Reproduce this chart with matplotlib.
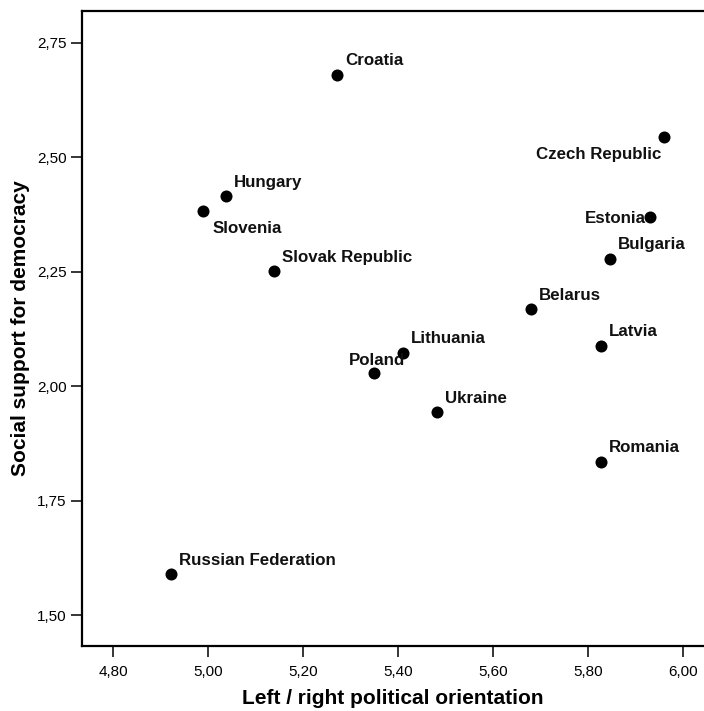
import matplotlib
matplotlib.use("Agg")
import matplotlib.pyplot as plt

countries = ["Croatia", "Czech Republic", "Hungary", "Slovenia", "Slovak Republic",
             "Estonia", "Bulgaria", "Belarus", "Latvia", "Lithuania", "Poland",
             "Ukraine", "Romania", "Russian Federation"]
left_right = [5.271, 5.960, 5.037, 4.989, 5.138,
              5.929, 5.846, 5.679, 5.827, 5.410, 5.349,
              5.482, 5.827, 4.921]
support = [2.680, 2.544, 2.415, 2.382, 2.251,
           2.369, 2.278, 2.168, 2.088, 2.073, 2.028,
           1.943, 1.835, 1.589]

x_ticks = [4.80, 5.00, 5.20, 5.40, 5.60, 5.80, 6.00]
x_tick_labels = ["4,80", "5,00", "5,20", "5,40", "5,60", "5,80", "6,00"]
y_ticks = [1.50, 1.75, 2.00, 2.25, 2.50, 2.75]
y_tick_labels = ["1,50", "1,75", "2,00", "2,25", "2,50", "2,75"]

# label placement (pixel offsets from point, ha)
default_off = (8, 9.5, "left")
label_off = {
    "Czech Republic": (-3, -22, "right"),
    "Slovenia": (9.7, -21.7, "left"),
    "Estonia": (-4, -5.4, "right"),
    "Poland": (-25.3, 8.3, "left"),
}

DPI = 100
plt.rcParams["font.family"] = ["Liberation Sans", "DejaVu Sans"]
fig = plt.figure(figsize=(7.04, 7.11), dpi=DPI)
ax = fig.add_axes([81.7 / 704, 1 - 646 / 711, 1 - 81.7 / 704, (646 - 11) / 711])

ax.scatter(left_right, support, s=75, color="black", zorder=3, linewidths=0)

px2pt = 72.0 / DPI
for name, xv, yv in zip(countries, left_right, support):
    dx, dy, ha = label_off.get(name, default_off)
    ax.annotate(name, (xv, yv), xytext=(dx * px2pt, dy * px2pt),
                textcoords="offset points", ha=ha, va="baseline",
                fontsize=12.2, fontweight="bold", color="#111111", zorder=4)

ax.set_xlim(4.7335, 6.0436)
ax.set_ylim(1.4323, 2.8192)
ax.set_xticks(x_ticks)
ax.set_xticklabels(x_tick_labels)
ax.set_yticks(y_ticks)
ax.set_yticklabels(y_tick_labels)
ax.tick_params(axis="both", length=8, width=1.1, labelsize=11, colors="black")
ax.tick_params(axis="x", pad=5.5)
ax.tick_params(axis="y", pad=3)

for side in ["left", "bottom", "top"]:
    ax.spines[side].set_linewidth(1.6)
    ax.spines[side].set_color("black")
ax.spines["right"].set_visible(False)

ax.set_xlabel("Left / right political orientation", fontsize=15, fontweight="bold", labelpad=7.5)
ax.set_ylabel("Social support for democracy", fontsize=15, fontweight="bold", labelpad=5)

fig.savefig("out.png", dpi=DPI)
